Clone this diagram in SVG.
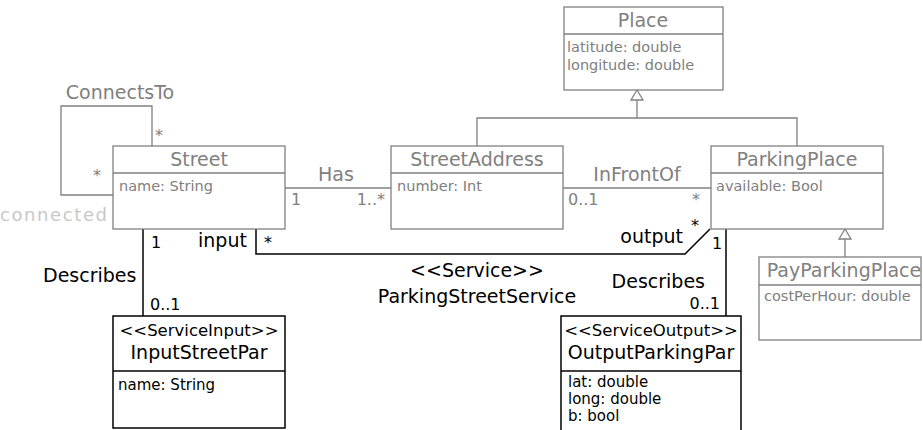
<svg xmlns="http://www.w3.org/2000/svg" width="923" height="430" viewBox="0 0 923 430">
<style>
text{font-family:"DejaVu Sans",Verdana,sans-serif}
.g{fill:#808080}
.k{fill:#000}
.gb{fill:#fff;stroke:#808080;stroke-width:1.3}
.kb{fill:#fff;stroke:#000;stroke-width:1.5}
.gl{fill:none;stroke:#808080;stroke-width:1.3}
.kl{fill:none;stroke:#000;stroke-width:1.5}
.n{font-size:19px;text-anchor:middle}
.a{font-size:14.5px}
.ka{font-size:15px}
.m{font-size:16px}
.l{font-size:19px}
.st{font-size:16.5px;text-anchor:middle}
</style>
<g id="connectors">
  <polyline class="gl" points="152,146 152,106 61,106 61,195 113,195"/>
  <line class="gl" x1="285" y1="188" x2="391" y2="188"/>
  <line class="gl" x1="563" y1="188" x2="711" y2="188"/>
  <polyline class="gl" points="477,146 477,118 797,118 797,146"/>
  <line class="gl" x1="637" y1="118" x2="637" y2="100"/>
  <polygon class="gb" points="637,90 631,100 643,100"/>
  <line class="gl" x1="845" y1="257" x2="845" y2="239"/>
  <polygon class="gb" points="845,229 839,239 851,239"/>
  <line class="kl" x1="143" y1="229" x2="143" y2="316"/>
  <polyline class="kl" points="256,229 256,254 685,254 710,229"/>
  <line class="kl" x1="726" y1="229" x2="726" y2="316"/>
  <text class="g l" x="120" y="99" text-anchor="middle">ConnectsTo</text>
  <text class="g m" x="155" y="141">*</text>
  <text class="g m" x="93" y="181">*</text>
  <text x="0" y="221" style="font-size:18px;fill:#c8c8c8" textLength="107">connected</text>
  <text class="g l" x="336" y="181" text-anchor="middle">Has</text>
  <text class="g m" x="291" y="205">1</text>
  <text class="g m" x="385" y="205" text-anchor="end">1..*</text>
  <text class="g l" x="637" y="181" text-anchor="middle">InFrontOf</text>
  <text class="g m" x="568" y="205">0..1</text>
  <text class="g m" x="692" y="205">*</text>
  <text class="k m" x="691" y="231">*</text>
  <text class="k m" x="151" y="248">1</text>
  <text class="k l" x="198" y="247">input</text>
  <text class="k m" x="264" y="248">*</text>
  <text class="k l" x="43" y="282">Describes</text>
  <text class="k m" x="150" y="310">0..1</text>
  <text class="k l" x="477" y="277" text-anchor="middle">&lt;&lt;Service&gt;&gt;</text>
  <text class="k l" x="477" y="303" text-anchor="middle">ParkingStreetService</text>
  <text class="k l" x="683" y="243" text-anchor="end">output</text>
  <text class="k m" x="712" y="249">1</text>
  <text class="k l" x="705" y="288" text-anchor="end">Describes</text>
  <text class="k m" x="720" y="309" text-anchor="end">0..1</text>
</g>
<g id="Place">
  <rect class="gb" x="564" y="7" width="159" height="83"/>
  <line class="gl" x1="564" y1="34" x2="723" y2="34"/>
  <text class="g n" x="643" y="27">Place</text>
  <text class="g a" x="567" y="52">latitude: double</text>
  <text class="g a" x="567" y="70">longitude: double</text>
</g>
<g id="Street">
  <rect class="gb" x="113" y="146" width="172" height="83"/>
  <line class="gl" x1="113" y1="173" x2="285" y2="173"/>
  <text class="g n" x="199" y="166">Street</text>
  <text class="g a" x="119" y="191">name: String</text>
</g>
<g id="StreetAddress">
  <rect class="gb" x="391" y="146" width="172" height="83"/>
  <line class="gl" x1="391" y1="173" x2="563" y2="173"/>
  <text class="g n" x="477" y="166">StreetAddress</text>
  <text class="g a" x="397" y="191">number: Int</text>
</g>
<g id="ParkingPlace">
  <rect class="gb" x="711" y="146" width="172" height="83"/>
  <line class="gl" x1="711" y1="173" x2="883" y2="173"/>
  <text class="g n" x="797" y="166">ParkingPlace</text>
  <text class="g a" x="716" y="191">available: Bool</text>
</g>
<g id="PayParkingPlace">
  <rect class="gb" x="759" y="257" width="162" height="83"/>
  <line class="gl" x1="759" y1="285" x2="921" y2="285"/>
  <text class="g n" x="844" y="277">PayParkingPlace</text>
  <text class="g a" x="764" y="301">costPerHour: double</text>
</g>
<g id="InputStreetPar">
  <rect class="kb" x="113" y="316" width="172" height="112"/>
  <line class="kl" x1="113" y1="371" x2="285" y2="371"/>
  <text class="k st" x="199" y="336">&lt;&lt;ServiceInput&gt;&gt;</text>
  <text class="k n" x="199" y="359">InputStreetPar</text>
  <text class="k ka" x="118" y="390">name: String</text>
</g>
<g id="OutputParkingPar">
  <rect class="kb" x="561" y="316" width="180" height="130"/>
  <line class="kl" x1="561" y1="371" x2="741" y2="371"/>
  <text class="k st" x="651" y="336">&lt;&lt;ServiceOutput&gt;&gt;</text>
  <text class="k n" x="651" y="359">OutputParkingPar</text>
  <text class="k ka" x="568" y="387">lat: double</text>
  <text class="k ka" x="568" y="404">long: double</text>
  <text class="k ka" x="568" y="421">b: bool</text>
</g>
</svg>
